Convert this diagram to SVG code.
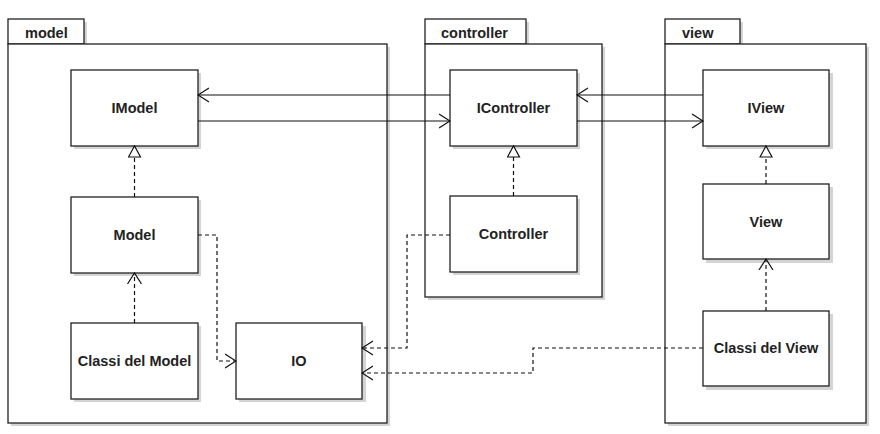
<svg xmlns="http://www.w3.org/2000/svg" width="880" height="434" viewBox="0 0 880 434">
<style>
.bg{fill:#fff}
.sh{fill:#d4d4d4}
.box{fill:#fff;stroke:#222;stroke-width:1.3}
.pkg{fill:#fff;stroke:#222;stroke-width:1.3}
.lbl{font-family:"Liberation Sans",Arial,sans-serif;font-weight:bold;font-size:14.5px;fill:#222;text-anchor:middle;dominant-baseline:central}
.plbl{font-family:"Liberation Sans",Arial,sans-serif;font-weight:bold;font-size:14.5px;fill:#222}
.ln{fill:none;stroke:#111;stroke-width:1.2}
.dash{stroke-dasharray:4,3}
</style>
<defs>
<marker id="open" viewBox="0 0 12 16" refX="11" refY="8" markerWidth="12" markerHeight="16" markerUnits="userSpaceOnUse" orient="auto">
<path d="M0,1 L11,8 L0,15" fill="none" stroke="#111" stroke-width="1.2"/>
</marker>
<marker id="tri" viewBox="0 0 14 14" refX="12" refY="7" markerWidth="14" markerHeight="14" markerUnits="userSpaceOnUse" orient="auto">
<path d="M1,1 L12,7 L1,13 Z" fill="#fff" stroke="#111" stroke-width="1.2"/>
</marker>
</defs>
<rect class="bg" x="0" y="0" width="880" height="434"/>

<g id="pkg-model">
<rect class="sh" x="11" y="22" width="76" height="25"/>
<rect class="sh" x="11" y="47" width="379" height="379"/>
<rect class="pkg" x="8" y="19" width="76" height="25"/>
<rect class="pkg" x="8" y="44" width="379" height="379"/>
<text class="plbl" x="25" y="38">model</text>
</g>
<g id="pkg-controller">
<rect class="sh" x="428" y="22" width="101" height="25"/>
<rect class="sh" x="428" y="47" width="177" height="253"/>
<rect class="pkg" x="425" y="19" width="101" height="25"/>
<rect class="pkg" x="425" y="44" width="177" height="253"/>
<text class="plbl" x="441" y="38">controller</text>
</g>
<g id="pkg-view">
<rect class="sh" x="668" y="22" width="75" height="25"/>
<rect class="sh" x="668" y="47" width="201" height="379"/>
<rect class="pkg" x="665" y="19" width="75" height="25"/>
<rect class="pkg" x="665" y="44" width="201" height="379"/>
<text class="plbl" x="682" y="38">view</text>
</g>

<g id="IModel">
<rect class="sh" x="74" y="73" width="127" height="76"/>
<rect class="box" x="71" y="70" width="127" height="76"/>
<text class="lbl" x="134.5" y="108">IModel</text>
</g>
<g id="Model">
<rect class="sh" x="74" y="200" width="127" height="76"/>
<rect class="box" x="71" y="197" width="127" height="76"/>
<text class="lbl" x="134.5" y="235">Model</text>
</g>
<g id="ClassiModel">
<rect class="sh" x="74" y="326" width="127" height="76"/>
<rect class="box" x="71" y="323" width="127" height="76"/>
<text class="lbl" x="134.5" y="361">Classi del Model</text>
</g>
<g id="IO">
<rect class="sh" x="239" y="326" width="127" height="76"/>
<rect class="box" x="236" y="323" width="126" height="76"/>
<text class="lbl" x="299" y="361">IO</text>
</g>
<g id="IController">
<rect class="sh" x="453" y="73" width="127" height="76"/>
<rect class="box" x="450" y="70" width="127" height="76"/>
<text class="lbl" x="513.5" y="108">IController</text>
</g>
<g id="Controller">
<rect class="sh" x="453" y="199" width="127" height="76"/>
<rect class="box" x="450" y="196" width="127" height="76"/>
<text class="lbl" x="513.5" y="234">Controller</text>
</g>
<g id="IView">
<rect class="sh" x="706" y="73" width="127" height="76"/>
<rect class="box" x="703" y="70" width="126" height="76"/>
<text class="lbl" x="766" y="108">IView</text>
</g>
<g id="View">
<rect class="sh" x="706" y="187" width="127" height="76"/>
<rect class="box" x="703" y="184" width="126" height="75"/>
<text class="lbl" x="766" y="222">View</text>
</g>
<g id="ClassiView">
<rect class="sh" x="706" y="314" width="127" height="76"/>
<rect class="box" x="703" y="311" width="126" height="75"/>
<text class="lbl" x="766" y="348">Classi del View</text>
</g>

<g id="connectors">
<path class="ln" d="M450,95 L198,95" marker-end="url(#open)"/>
<path class="ln" d="M198,121 L450,121" marker-end="url(#open)"/>
<path class="ln" d="M703,95 L577,95" marker-end="url(#open)"/>
<path class="ln" d="M577,121 L703,121" marker-end="url(#open)"/>
<path class="ln dash" d="M134.5,197 L134.5,146" marker-end="url(#tri)"/>
<path class="ln dash" d="M513.5,196 L513.5,146" marker-end="url(#tri)"/>
<path class="ln dash" d="M766,184 L766,146" marker-end="url(#tri)"/>
<path class="ln dash" d="M134.5,323 L134.5,273" marker-end="url(#open)"/>
<path class="ln dash" d="M766,311 L766,259" marker-end="url(#open)"/>
<path class="ln dash" d="M198,235 L217,235 L217,361 L236,361" marker-end="url(#open)"/>
<path class="ln dash" d="M450,235 L407,235 L407,348 L362,348" marker-end="url(#open)"/>
<path class="ln dash" d="M703,348 L533,348 L533,373 L362,373" marker-end="url(#open)"/>
</g>
</svg>
